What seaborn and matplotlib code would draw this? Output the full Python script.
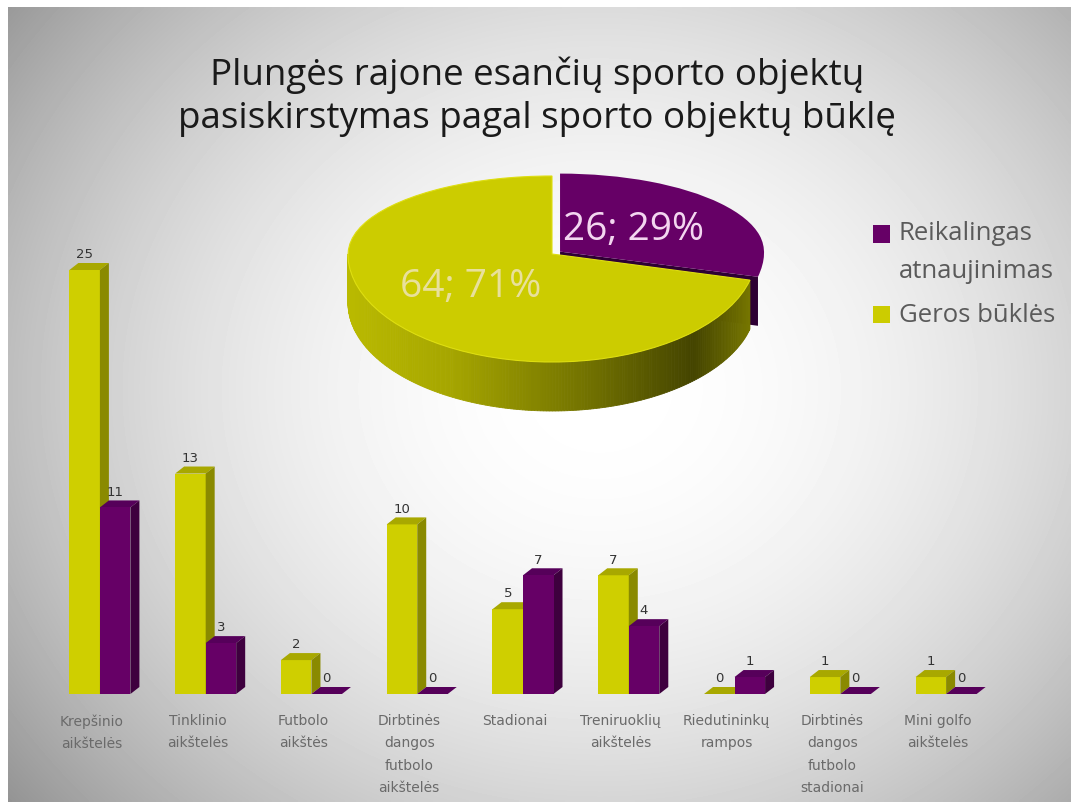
import numpy as np
import pandas as pd
import matplotlib
matplotlib.use('Agg')
import matplotlib.pyplot as plt
import seaborn as sns
from matplotlib.colors import LinearSegmentedColormap
from matplotlib.patches import Polygon
from matplotlib.transforms import ScaledTranslation

# data
kategorijos = ['Krepšinio\naikštelės', 'Tinklinio\naikštelės', 'Futbolo\naikštės',
               'Dirbtinės\ndangos\nfutbolo\naikštelės', 'Stadionai', 'Treniruoklių\naikštelės',
               'Riedutininkų\nrampos', 'Dirbtinės\ndangos\nfutbolo\nstadionai', 'Mini golfo\naikštelės']
geros_bukles = [25, 13, 2, 10, 5, 7, 0, 1, 1]
reikia_atnaujinti = [11, 3, 0, 0, 7, 4, 1, 0, 0]
pie_values = [26, 64]
pie_labels = ['Reikalingas\natnaujinimas', 'Geros būklės']
title = 'Plungės rajone esančių sporto objektų\npasiskirstymas pagal sporto objektų būklę'

YELLOW = '#CFCF00'
PURPLE = '#660066'
W, H = 1071, 803

sns.set_theme(style='white')
plt.rcParams['font.family'] = ['Open Sans', 'DejaVu Sans']

fig = plt.figure(figsize=(W / 100, H / 100), dpi=100, facecolor='white')


def px_axes(left, top, right, bottom, **kw):
    return fig.add_axes([left / W, 1 - bottom / H, (right - left) / W, (bottom - top) / H], **kw)


# background with radial grey gradient
canvas = px_axes(0, 0, W, H, zorder=0)
gx, gy = np.meshgrid(np.linspace(8, W, 300), np.linspace(8, H, 240))
r = np.sqrt(((gx - 600) / 640) ** 2 + ((gy - 390) / 560) ** 2)
canvas.imshow(1 - 0.30 * np.clip(r, 0, 1.6) ** 2.0, extent=(8, W, H, 8), cmap='gray', vmin=0, vmax=1,
              aspect='auto', interpolation='bilinear')
canvas.set_xlim(0, W)
canvas.set_ylim(H, 0)
canvas.axis('off')
canvas.text(537, 97, title, ha='center', va='center', fontsize=26.5, color='#1a1a1a', linespacing=1.25)

# grouped bars
df = pd.DataFrame({
    'kategorija': kategorijos * 2,
    'būklė': ['Geros būklės'] * 9 + ['Reikalingas atnaujinimas'] * 9,
    'kiekis': geros_bukles + reikia_atnaujinti,
})
ax = px_axes(47, 271, 999, 695, zorder=1)
ax.patch.set_alpha(0)
sns.barplot(data=df, x='kategorija', y='kiekis', hue='būklė', order=kategorijos,
            palette=[YELLOW, PURPLE], width=0.577, gap=0, saturation=1, legend=False, ax=ax)
ax.set_ylim(0, 25)
ax.set_xlabel('')
ax.set_ylabel('')
ax.set_yticks([])
sns.despine(ax=ax, left=True, bottom=True)
ax.tick_params(axis='x', length=0, pad=14)
shift = ScaledTranslation(-8 / 100, 0, fig.dpi_scale_trans)
for lab in ax.get_xticklabels():
    lab.set_fontfamily('DejaVu Sans')
    lab.set_fontsize(10)
    lab.set_color('#6a6a6a')
    lab.set_linespacing(1.73)
    lab.set_transform(lab.get_transform() + shift)

# fake 3d depth on each bar
dx = 9 / (952 / 9)
dy = 7 / (424 / 25)
shades = [('#A8A800', '#8A8A00', 2, 2), ('#56005A', '#3E003E', 3, 4)]
for cont, (top_c, side_c, z_ext, z_front) in zip(ax.containers, shades):
    for bar in cont:
        x0, w, h = bar.get_x(), bar.get_width(), bar.get_height()
        bar.set_zorder(z_front)
        bar.set_linewidth(0)
        ax.add_patch(Polygon([(x0, h), (x0 + dx, h + dy), (x0 + w + dx, h + dy), (x0 + w, h)],
                             facecolor=top_c, edgecolor='none', zorder=z_ext, clip_on=False))
        ax.add_patch(Polygon([(x0 + w, 0), (x0 + w + dx, dy), (x0 + w + dx, h + dy), (x0 + w, h)],
                             facecolor=side_c, edgecolor='none', zorder=z_ext, clip_on=False))
    ax.bar_label(cont, fmt='%d', padding=7, fontsize=9.5, color='#333333', zorder=6, clip_on=False,
                 fontfamily='DejaVu Sans')

# pie, top half squeezed more than lower half to imitate perspective
TOP_RY, BOT_RY = 78, 108
DEPTH = 49 / BOT_RY
EXPLODE = 0.05


def fwd(y):
    return np.where(y > 0, y * TOP_RY, y * BOT_RY)


def inv(y):
    return np.where(y > 0, y / TOP_RY, y / BOT_RY)


pax = px_axes(297, 255 - 1.3 * TOP_RY, 807, 255 + 1.6 * BOT_RY, zorder=2)
pax.patch.set_alpha(0)
total = sum(pie_values)
wedges, _, autotexts = pax.pie(
    pie_values, colors=[PURPLE, '#CCCC00'], startangle=90, counterclock=False,
    explode=[EXPLODE, 0], pctdistance=0.48, radius=1,
    autopct=lambda p: f'{round(p * total / 100)}; {round(p)}%',
    textprops={'fontsize': 28})
pax.set_aspect('auto')
pax.set_yscale('function', functions=(fwd, inv))
pax.set_xlim(-1.25, 1.25)
pax.set_ylim(-1.6, 1.3)
pax.axis('off')
autotexts[0].set_color('#F3D6F0')
autotexts[1].set_color('#E8E09C')
wedges[0].set_edgecolor('none')
wedges[0].set_linewidth(0)
wedges[1].set_edgecolor('#DEDE10')
wedges[1].set_linewidth(0.8)
wedges[0].set_zorder(2)
wedges[1].set_zorder(4)
for t in autotexts:
    t.set_zorder(6)
    tx, ty = t.get_position()
    t.set_position((tx - 0.02, ty))

# side wall of the pie
end_ang = np.radians(wedges[0].theta1 if wedges[0].theta1 < 0 else wedges[0].theta1 - 360)
mid = np.radians((wedges[0].theta1 + wedges[0].theta2) / 2)
ex, ey = EXPLODE * np.cos(mid), EXPLODE * np.sin(mid)
px_edge = (ex + np.cos(end_ang), ey + np.sin(end_ang))
cut = Polygon([(ex, ey), px_edge, (px_edge[0], px_edge[1] - DEPTH), (ex, ey - DEPTH)],
              facecolor='#2E0033', edgecolor='none', zorder=1)
pax.add_patch(cut)

wall_cmap = LinearSegmentedColormap.from_list('wall', [
    (0, '#BABA00'), (0.25, '#A6A600'), (0.6, '#707000'), (0.85, '#444400'), (1, '#7B7B00')])
th = np.linspace(np.pi, 2 * np.pi + end_ang, 200)
for a, b in zip(th[:-1], th[1:]):
    col = wall_cmap((np.cos((a + b) / 2) + 1) / 2)
    pax.add_patch(Polygon([(np.cos(a), np.sin(a)), (np.cos(b), np.sin(b)),
                           (np.cos(b), np.sin(b) - DEPTH), (np.cos(a), np.sin(a) - DEPTH)],
                          facecolor=col, edgecolor=col, linewidth=0.6, zorder=3))
pax.set_xlim(-1.25, 1.25)
pax.set_ylim(-1.6, 1.3)

leg = canvas.legend(wedges, pie_labels, loc='upper left', bbox_to_anchor=(873, 221),
                    bbox_transform=canvas.transData, frameon=False, fontsize=18.5,
                    handlelength=0.68, handleheight=0.68, handletextpad=0.32,
                    labelspacing=0.77, borderpad=0, borderaxespad=0)
for t in leg.get_texts():
    t.set_color('#5a5a5a')
    t.set_linespacing(1.66)
# handle of the two-line entry sits at the first line
leg.legend_handles[0].set_y(leg.legend_handles[0].get_y() + 12.6)
leg.legend_handles[1].set_y(leg.legend_handles[1].get_y() - 1.5)
for h in leg.legend_handles:
    h.set_linewidth(0)

fig.savefig('out.png', dpi=100)
